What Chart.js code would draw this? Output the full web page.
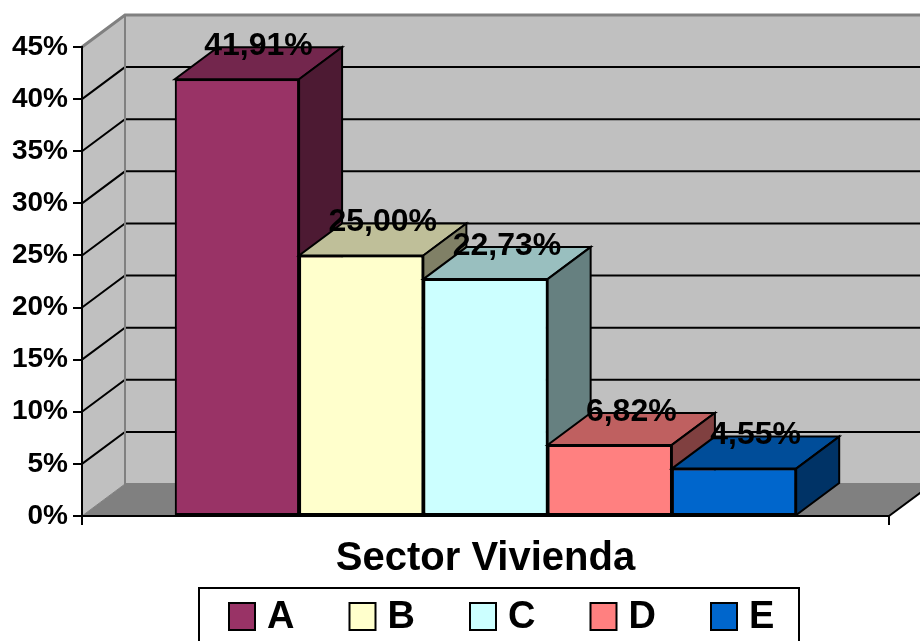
<!DOCTYPE html>
<html>
<head>
<meta charset="utf-8">
<script src="https://cdn.jsdelivr.net/npm/chart.js@4"></script>
<style>
html, body { margin: 0; padding: 0; background: #ffffff; }
#wrap { width: 920px; height: 641px; }
</style>
</head>
<body>
<div id="wrap"><canvas id="c" width="920" height="641"></canvas></div>
<script>
// ---- data ----
const categories = ['Sector Vivienda'];
const seriesNames = ['A', 'B', 'C', 'D', 'E'];
const seriesValues = [41.91, 25.00, 22.73, 6.82, 4.55];
const seriesColors = ['#993366', '#FFFFCC', '#CCFFFF', '#FF8080', '#0066CC'];
const yMin = 0;
const yMax = 45;
const yStep = 5;

// ---- style ----
const FONT = "'Liberation Sans', Arial, Helvetica, sans-serif";
const DEPTH = { dx: 43, dy: 32 };
const WALL = '#c0c0c0';
const FLOOR = '#808080';
const EDGE = '#808080';

function shade(hex, f) {
  const n = parseInt(hex.slice(1), 16);
  const r = Math.round(((n >> 16) & 255) * f);
  const g = Math.round(((n >> 8) & 255) * f);
  const b = Math.round((n & 255) * f);
  return 'rgb(' + r + ',' + g + ',' + b + ')';
}
function fmt(v) { return v.toFixed(2).replace('.', ',') + '%'; }

function poly(ctx, pts, fill, stroke, lw) {
  ctx.beginPath();
  ctx.moveTo(pts[0][0], pts[0][1]);
  for (let i = 1; i < pts.length; i++) ctx.lineTo(pts[i][0], pts[i][1]);
  ctx.closePath();
  if (fill) { ctx.fillStyle = fill; ctx.fill(); }
  if (stroke) { ctx.strokeStyle = stroke; ctx.lineWidth = lw; ctx.stroke(); }
}

const wallsPlugin = {
  id: 'walls',
  beforeDraw(chart) {
    const ctx = chart.ctx;
    const a = chart.chartArea;
    const ys = chart.scales.y;
    const dx = DEPTH.dx, dy = DEPTH.dy;
    const L = a.left, R = a.right;
    const T = ys.getPixelForValue(yMax), B = ys.getPixelForValue(yMin);
    ctx.save();
    ctx.lineJoin = 'miter';
    // back wall
    poly(ctx, [[L + dx, T - dy], [R + dx, T - dy], [R + dx, B - dy], [L + dx, B - dy]], WALL, null, 0);
    // left wall
    poly(ctx, [[L, B], [L, T], [L + dx, T - dy], [L + dx, B - dy]], WALL, null, 0);
    // floor
    poly(ctx, [[L, B], [R, B], [R + dx, B - dy], [L + dx, B - dy]], FLOOR, null, 0);
    // grid lines
    ctx.strokeStyle = '#000';
    ctx.lineWidth = 2;
    ys.ticks.forEach(t => {
      if (t.value <= yMin || t.value >= yMax) return;
      const y = ys.getPixelForValue(t.value);
      ctx.beginPath();
      ctx.moveTo(L, y);
      ctx.lineTo(L + dx, y - dy);
      ctx.lineTo(R + dx, y - dy);
      ctx.stroke();
    });
    // wall edges
    ctx.strokeStyle = EDGE;
    ctx.lineWidth = 3;
    ctx.beginPath();
    ctx.moveTo(L, T);
    ctx.lineTo(L + dx, T - dy);
    ctx.lineTo(R + dx + 5, T - dy);
    ctx.stroke();
    ctx.lineWidth = 2;
    ctx.beginPath();
    ctx.moveTo(L + dx, T - dy);
    ctx.lineTo(L + dx, B - dy);
    ctx.lineTo(R + dx, B - dy);
    ctx.stroke();
    ctx.lineWidth = 1;
    ctx.beginPath();
    ctx.moveTo(L, B);
    ctx.lineTo(L + dx, B - dy);
    ctx.stroke();
    ctx.lineWidth = 2;
    ctx.strokeStyle = '#000';
    ctx.beginPath();
    ctx.moveTo(R, B);
    ctx.lineTo(R + dx, B - dy);
    ctx.stroke();
    ctx.restore();
  },
  afterDatasetsDraw(chart) {
    const ctx = chart.ctx;
    const dx = DEPTH.dx, dy = DEPTH.dy;
    ctx.save();
    ctx.lineJoin = 'miter';
    chart.data.datasets.forEach((ds, i) => {
      const meta = chart.getDatasetMeta(i);
      meta.data.forEach(bar => {
        const l = bar.x - bar.width / 2, r = bar.x + bar.width / 2;
        const t = bar.y, b = bar.base;
        const col = ds.backgroundColor;
        poly(ctx, [[l, t], [r, t], [r + dx, t - dy], [l + dx, t - dy]], shade(col, 0.75), '#000', 2);
        poly(ctx, [[r, t], [r + dx, t - dy], [r + dx, b - dy], [r, b]], shade(col, 0.5), '#000', 2);
        bar.draw(ctx);
      });
    });
    // value labels
    ctx.fillStyle = '#000';
    ctx.font = 'bold 32px ' + FONT;
    ctx.textAlign = 'center';
    ctx.textBaseline = 'middle';
    chart.data.datasets.forEach((ds, i) => {
      const meta = chart.getDatasetMeta(i);
      meta.data.forEach((bar, j) => {
        ctx.fillText(fmt(ds.data[j]), bar.x + dx / 2, bar.y - dy - 1);
      });
    });
    ctx.restore();
  },
  afterDraw(chart) {
    const ctx = chart.ctx;
    ctx.save();
    // legend frame
    ctx.strokeStyle = '#000';
    ctx.lineWidth = 2;
    ctx.strokeRect(199, 588, 600, 80);
    ctx.font = 'bold 38px ' + FONT;
    ctx.textAlign = 'left';
    ctx.textBaseline = 'middle';
    chart.data.datasets.forEach((ds, i) => {
      const x = 229 + i * 120.5;
      ctx.fillStyle = ds.backgroundColor;
      ctx.fillRect(x, 603, 26, 27);
      ctx.strokeStyle = '#000';
      ctx.lineWidth = 2;
      ctx.strokeRect(x, 603, 26, 27);
      ctx.fillStyle = '#000';
      ctx.fillText(ds.label, x + 38, 618);
    });
    ctx.restore();
  }
};

const datasets = seriesNames.map((name, i) => ({
  label: name,
  data: [seriesValues[i]],
  backgroundColor: seriesColors[i],
  borderColor: '#000000',
  borderWidth: 2,
  borderSkipped: false,
  categoryPercentage: 0.77,
  barPercentage: 1.0,
  clip: false
}));

new Chart(document.getElementById('c'), {
  type: 'bar',
  data: { labels: categories, datasets: datasets },
  options: {
    responsive: false,
    animation: false,
    devicePixelRatio: 1,
    layout: { padding: { top: 47, right: 31, left: 0, bottom: 0 } },
    plugins: { legend: { display: false }, tooltip: { enabled: false } },
    scales: {
      x: {
        grid: { display: true, drawOnChartArea: false, drawTicks: true, tickLength: 9, color: '#000', lineWidth: 2, offset: true },
        border: { display: true, color: '#000', width: 2 },
        ticks: { display: false },
        title: {
          display: true,
          text: categories[0],
          color: '#000',
          font: { family: FONT, size: 40, weight: 'bold' },
          padding: { top: 0, bottom: 58 }
        },
        afterFit(s) { s.height = 125; }
      },
      y: {
        min: yMin,
        max: yMax,
        ticks: {
          stepSize: yStep,
          color: '#000',
          padding: 5,
          font: { family: FONT, size: 28, weight: 'bold' },
          callback: v => v + '%'
        },
        grid: { drawOnChartArea: false, drawTicks: true, tickLength: 9, color: '#000', lineWidth: 2 },
        border: { display: true, color: '#000', width: 2 },
        afterFit(s) { s.width = 82; }
      }
    }
  },
  plugins: [wallsPlugin]
});
</script>
</body>
</html>
